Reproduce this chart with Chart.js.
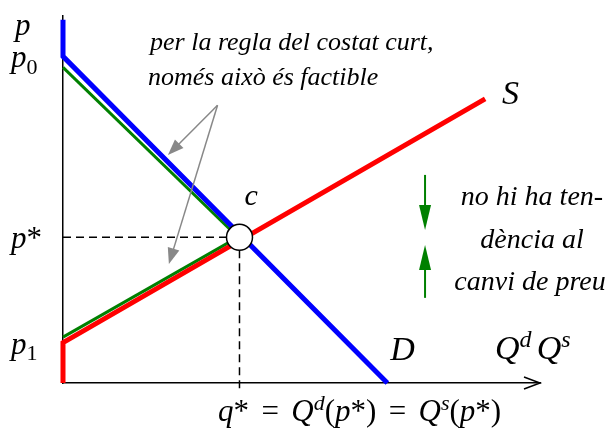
<!DOCTYPE html>
<html>
<head>
<meta charset="utf-8">
<script src="https://cdn.jsdelivr.net/npm/chart.js@4"></script>
<style>
  html, body { margin: 0; padding: 0; background: #fff; }
</style>
</head>
<body>
<canvas id="market" width="613" height="436"></canvas>
<script>
// demand D, supply S and the short-side branches (quantity q, price p)
const demandQ = [0, 0, 68];
const demandP = [99, 89, 0];
const supplyQ = [0, 0, 88.5];
const supplyP = [0, 11, 77.4];
const shortDemandQ = [0, 36];
const shortDemandP = [86, 40.6];
const shortSupplyQ = [0, 36];
const shortSupplyP = [12.5, 39.2];
const qStar = 37;
const pStar = 39.7;
const priceTickValues = [89, pStar, 11];
const priceTickLabels = ["p_0", "p*", "p_1"];

const serif = '"Liberation Serif", "DejaVu Serif", serif';

const pairs = (xs, ys) => xs.map((x, i) => ({ x: x, y: ys[i] }));

// tiny math writer: letters italic, _x subscript, ^x superscript
function mathText(ctx, str, x, y, size, align, gap) {
    if (gap === undefined) gap = 0.3;
    const segs = [];
    for (let i = 0; i < str.length; i++) {
        let c = str[i], mode = 0;
        if ((c === "_" || c === "^") && i + 1 < str.length) {
            mode = c === "_" ? 1 : -1;
            c = str[++i];
        }
        segs.push({ c: c, mode: mode, it: /[A-Za-z]/.test(c) });
    }
    const fontFor = (s) => (s.it ? "italic " : "") + Math.round(s.mode ? size * 0.7 : size) + "px " + serif;
    let w = 0;
    segs.forEach((s) => {
        ctx.font = fontFor(s);
        s.w = s.c === " " ? size * gap : ctx.measureText(s.c).width;
        w += s.w;
    });
    let cx = x;
    if (align === "center") cx = x - w / 2;
    if (align === "right") cx = x - w;
    ctx.textAlign = "left";
    ctx.textBaseline = "alphabetic";
    segs.forEach((s) => {
        ctx.font = fontFor(s);
        let dy = 0;
        if (s.mode === 1) dy = size * 0.22;
        if (s.mode === -1) dy = -size * 0.36;
        ctx.fillText(s.c, cx, y + dy);
        cx += s.w;
    });
}

function arrow(ctx, x0, y0, x1, y1, len, half, color, width) {
    const a = Math.atan2(y1 - y0, x1 - x0);
    ctx.strokeStyle = color;
    ctx.fillStyle = color;
    ctx.lineWidth = width;
    ctx.beginPath();
    ctx.moveTo(x0, y0);
    ctx.lineTo(x1 - Math.cos(a) * len * 0.8, y1 - Math.sin(a) * len * 0.8);
    ctx.stroke();
    ctx.beginPath();
    ctx.moveTo(x1, y1);
    ctx.lineTo(x1 - Math.cos(a) * len - Math.sin(a) * half, y1 - Math.sin(a) * len + Math.cos(a) * half);
    ctx.lineTo(x1 - Math.cos(a) * len + Math.sin(a) * half, y1 - Math.sin(a) * len - Math.cos(a) * half);
    ctx.closePath();
    ctx.fill();
}

const overlay = {
    id: "overlay",
    afterDatasetsDraw(chart) {
        const ctx = chart.ctx;
        const xs = chart.scales.x, ys = chart.scales.y;
        const a = chart.chartArea;
        ctx.save();

        // open arrow at the end of the quantity axis
        ctx.strokeStyle = "#000";
        ctx.lineWidth = 1.5;
        ctx.beginPath();
        ctx.moveTo(a.right - 16, a.bottom - 6);
        ctx.lineTo(a.right, a.bottom);
        ctx.lineTo(a.right - 16, a.bottom + 6);
        ctx.stroke();

        // grey pointers to the feasible branches
        const gx = xs.getPixelForValue(32.4), gy = ys.getPixelForValue(75.7);
        arrow(ctx, gx, gy, xs.getPixelForValue(22), ys.getPixelForValue(62.1), 16, 6, "#888", 1.5);
        arrow(ctx, gx, gy, xs.getPixelForValue(22.2), ys.getPixelForValue(32.4), 16, 6, "#888", 1.5);

        // green arrows: no pressure on the price
        const ax = xs.getPixelForValue(75.9);
        arrow(ctx, ax, ys.getPixelForValue(56.7), ax, ys.getPixelForValue(41.7), 25, 6, "#008000", 2);
        arrow(ctx, ax, ys.getPixelForValue(23.2), ax, ys.getPixelForValue(37.6), 25, 6, "#008000", 2);

        ctx.fillStyle = "#000";
        mathText(ctx, "p", 15, 35, 31, "left");
        priceTickValues.forEach((v, i) => {
            mathText(ctx, priceTickLabels[i], 11, ys.getPixelForValue(v) + 11, 31, "left");
        });
        mathText(ctx, "c", xs.getPixelForValue(qStar) + 5, ys.getPixelForValue(pStar) - 32, 30, "left");
        mathText(ctx, "S", a.right - 38, 104, 34, "left");
        mathText(ctx, "D", xs.getPixelForValue(demandQ[2]) + 3, a.bottom - 23, 34, "left");
        mathText(ctx, "Q^d Q^s", a.right - 45, a.bottom - 24, 34, "left", 0.15);
        mathText(ctx, "q* = Q^d(p*) = Q^s(p*)", 218, 421, 31, "left", 0.4);

        ctx.font = "italic 26px " + serif;
        ctx.textAlign = "left";
        ctx.fillText("per la regla del costat curt,", 150, 50);
        ctx.fillText("només això és factible", 148, 85);
        ctx.font = "italic 28px " + serif;
        ctx.textAlign = "center";
        ctx.fillText("no hi ha ten-", 532, 205);
        ctx.fillText("dència al", 532, 248);
        ctx.fillText("canvi de preu", 530, 290);
        ctx.restore();
    }
};

const lineStyle = (color, width) => ({
    borderColor: color, borderWidth: width, pointRadius: 0, fill: false,
    tension: 0, clip: false, borderJoinStyle: "miter", borderCapStyle: "butt"
});

new Chart(document.getElementById("market"), {
    type: "line",
    data: {
        datasets: [
            {
                label: "c", type: "scatter", data: [{ x: qStar, y: pStar }],
                pointRadius: 13, pointBackgroundColor: "#fff", pointBorderColor: "#000",
                pointBorderWidth: 1.5, clip: false, order: 0
            },
            Object.assign({ label: "D", data: pairs(demandQ, demandP), order: 1 }, lineStyle("#0000ff", 5)),
            Object.assign({ label: "S", data: pairs(supplyQ, supplyP), order: 1 }, lineStyle("#ff0000", 5)),
            Object.assign({ label: "D curt", data: pairs(shortDemandQ, shortDemandP), order: 2 }, lineStyle("#008000", 3)),
            Object.assign({ label: "S curt", data: pairs(shortSupplyQ, shortSupplyP), order: 2 }, lineStyle("#008000", 3)),
            Object.assign({ label: "p*", data: [{ x: 0, y: pStar }, { x: qStar, y: pStar }], borderDash: [8, 5], order: 3 }, lineStyle("#000", 1.5)),
            Object.assign({ label: "q*", data: [{ x: qStar, y: pStar }, { x: qStar, y: -1.5 }], borderDash: [8, 5], order: 3 }, lineStyle("#000", 1.5))
        ]
    },
    options: {
        responsive: false,
        animation: false,
        devicePixelRatio: 1,
        layout: { padding: { left: 55, right: 73, top: 16, bottom: 45 } },
        plugins: { legend: { display: false }, tooltip: { enabled: false } },
        scales: {
            x: {
                type: "linear", min: 0, max: 100,
                grid: { display: false }, ticks: { display: false },
                border: { display: true, color: "#000", width: 1.5 }
            },
            y: {
                type: "linear", min: 0, max: 100,
                grid: { display: false }, ticks: { display: false },
                border: { display: true, color: "#000", width: 1.5 }
            }
        }
    },
    plugins: [overlay]
});
</script>
</body>
</html>
